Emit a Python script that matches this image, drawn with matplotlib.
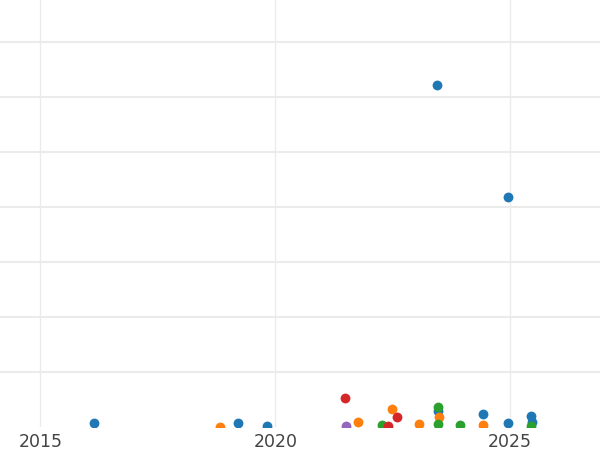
import numpy as np
import matplotlib.pyplot as plt

# values (x = year, y = value)
blue_x = [2016.13, 2019.21, 2019.82, 2023.44, 2023.46, 2024.43, 2024.95, 2024.96, 2025.44, 2025.47]
blue_y = [3.9, 3.4, 0.9, 311, 14.5, 11.5, 3.6, 209, 9.7, 4.8]

orange_x = [2018.82, 2021.76, 2022.48, 2023.05, 2023.49, 2024.43]
orange_y = [0.3, 4.5, 16.6, 2.7, 9.4, 2.1]

green_x = [2022.27, 2023.46, 2023.46, 2023.93, 2025.44]
green_y = [1.8, 18.5, 2.7, 2.1, 1.2]

red_x = [2021.48, 2022.40, 2022.59]
red_y = [26.4, 1.2, 9.1]

purple_x = [2021.50]
purple_y = [1.2]

series = [
    (blue_x, blue_y, '#1f77b4'),
    (orange_x, orange_y, '#ff7f0e'),
    (green_x, green_y, '#2ca02c'),
    (red_x, red_y, '#d62728'),
    (purple_x, purple_y, '#9467bd'),
]

fig = plt.figure(figsize=(6, 4.5), dpi=100)
ax = fig.add_axes([0, 0.0511, 1, 0.9489])

for xs, ys, c in series:
    ax.scatter(xs, ys, s=50, color=c, zorder=3, linewidths=0)

ax.set_xlim(2014.138, 2026.914)
ax.set_ylim(0, 388.2)
ax.set_xticks([2015, 2020, 2025])
ax.set_yticks(np.arange(50, 351, 50))
ax.grid(True, axis='y', color='#ebebeb', linewidth=1.5, zorder=0)
ax.grid(True, axis='x', color='#ebebeb', linewidth=1, zorder=0)
ax.tick_params(length=0, labelsize=12.5, labelcolor='#444444', pad=4)
ax.tick_params(axis='y', labelleft=False)
for s in ax.spines.values():
    s.set_visible(False)

fig.savefig('out.png', dpi=100)
